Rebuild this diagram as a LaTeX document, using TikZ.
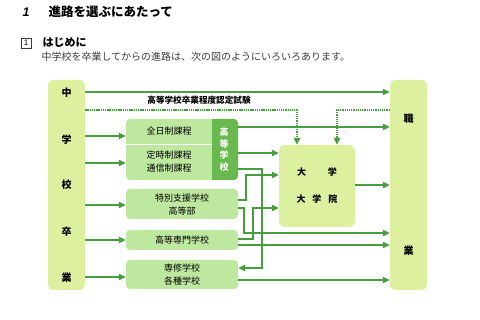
\documentclass[tikz,border=0pt]{standalone}
\usepackage{fontspec}
\setmainfont{Noto Sans CJK JP}
\newfontfamily\latinfont{Liberation Sans}
\usetikzlibrary{arrows.meta, positioning, calc}
\definecolor{colfill}{RGB}{221,240,160}
\definecolor{boxfill}{RGB}{190,232,160}
\definecolor{hsdark}{RGB}{105,185,80}
\definecolor{linegreen}{RGB}{70,158,60}
\definecolor{textgray}{RGB}{60,60,60}

\tikzset{
  column/.style={fill=colfill, rounded corners=5pt, minimum width=37pt,
    minimum height=210pt, inner sep=0pt},
  collabel/.style={font=\fontsize{10}{10}\selectfont\bfseries},
  school/.style={fill=boxfill, rounded corners=4pt, minimum width=112pt,
    inner sep=0pt},
  schooltext/.style={font=\fontsize{9}{13}\selectfont, align=center},
  flow/.style={linegreen, line width=1.1pt, -{Triangle[length=7pt,width=6.5pt]}},
  exam/.style={linegreen, line width=2pt, dash pattern=on 1.3pt off 0.9pt,
    -{Triangle[length=7pt,width=6.5pt]}}
}

\begin{document}
\begin{tikzpicture}[x=1pt, y=-1pt]
        \useasboundingbox (0,0) rectangle (480,320);

        % Headings
        \node[font=\latinfont\bfseries\itshape\fontsize{12.5}{14}\selectfont] (titlenum) at (26,12) {1};
        \node[anchor=west, font=\fontsize{12.5}{14}\selectfont\bfseries] (title) at (45,12) {進路を選ぶにあたって};
        \node[draw=textgray, line width=0.5pt, minimum size=10pt, inner sep=0pt,
          font=\latinfont\fontsize{8}{8}\selectfont] (secnum) at (26,43) {1};
        \node[anchor=west, font=\fontsize{11}{12}\selectfont\bfseries] (sectitle) at (39,43) {はじめに};
        \node[anchor=west, textgray, font=\fontsize{10}{11}\selectfont] (intro) at (38,57)
          {中学校を卒業してからの進路は、次の図のようにいろいろあります。};

        % Columns (start and goal)
        \node[column] (jhs) at (66.5,185) {};
        \foreach \y/\c [count=\i] in {93/中, 140/学, 185/校, 232/卒, 278/業}
          \node[collabel] (jhsl\i) at (66.5,\y) {\c};
        \node[column] (work) at (408.5,185) {};
        \node[collabel] (workl1) at (408.5,119) {職};
        \node[collabel] (workl2) at (408.5,251) {業};

        % High school block
        \node[school, minimum height=61pt] (hs) at (182,149.5) {};
        \node[fill=hsdark, rounded corners=4pt, minimum width=26pt, minimum height=61pt,
          inner sep=0pt] (hsd) at (225,149.5) {};
        \fill[hsdark] (212,119) rectangle (225,180);
        \draw[white, line width=0.8pt] (hs.west |- 0,144) -- (212,144);
        \node[schooltext] (zen) at (169,131) {全日制課程};
        \node[schooltext] (tei) at (169,161.5) {定時制課程\\通信制課程};
        \node[schooltext, white, font=\fontsize{9}{11.7}\selectfont\bfseries] (hsdl) at (224,149.5)
          {高\\等\\学\\校};

        % Other schools
        \node[school, minimum height=30pt] (toku) at (182,204) {};
        \node[schooltext] (tokul) at (182,205) {特別支援学校\\高等部};
        \node[school, minimum height=20pt] (kosen) at (182,240) {};
        \node[schooltext] (kosenl) at (182,240) {高等専門学校};
        \node[school, minimum height=29pt] (sensyu) at (182,274.5) {};
        \node[schooltext] (sensyul) at (182,274.5) {専修学校\\各種学校};

        % University
        \node[fill=colfill, rounded corners=6pt, minimum width=76pt, minimum height=82pt,
          inner sep=0pt] (univ) at (317,186) {};
        \node[font=\fontsize{9}{10}\selectfont\bfseries] (univa) at (317,172)
          {\makebox[40pt][s]{大\hfill 学}};
        \node[font=\fontsize{9}{10}\selectfont\bfseries] (univb) at (317,199)
          {\makebox[41pt][s]{大\hfill 学\hfill 院}};

        % Equivalency exam
        \draw[flow] (jhs.east |- 0,92) -- (work.west |- 0,92);
        \node[font=\fontsize{8.6}{9}\selectfont\bfseries] (examlabel) at (199,100) {高等学校卒業程度認定試験};
        \draw[exam] (jhs.east |- 0,110) -| ([xshift=-20pt]univ.north);
        \draw[exam] (work.west |- 0,110) -| ([xshift=20pt]univ.north);

        % From junior high school
        \foreach \y/\t in {136/hs, 163/hs, 205/toku, 240/kosen, 277/sensyu}
          \draw[flow] (jhs.east |- 0,\y) -- (\t.west |- 0,\y);

        % Onward routes
        \draw[flow] (hs.east |- 0,127) -- (work.west |- 0,127);
        \draw[flow] (hs.east |- 0,153) -- (univ.west |- 0,153);
        \draw[flow] (hs.east |- 0,169) -- (262,169) -- (262,268) -- (sensyu.east |- 0,268);
        \draw[flow] (toku.east |- 0,200) -- (246,200) -- (246,175) -- (univ.west |- 0,175);
        \draw[flow] (toku.east |- 0,208) -- (244,208) -- (244,233) -- (work.west |- 0,233);
        \draw[flow] (kosen.east |- 0,239) -- (253,239) -- (253,208) -- (univ.west |- 0,208);
        \draw[flow] (kosen.east |- 0,245) -- (work.west |- 0,245);
        \draw[flow] (sensyu.east |- 0,280) -- (work.west |- 0,280);
        \draw[flow] (univ.east |- 0,185) -- (work.west |- 0,185);
      \end{tikzpicture}
\end{document}
